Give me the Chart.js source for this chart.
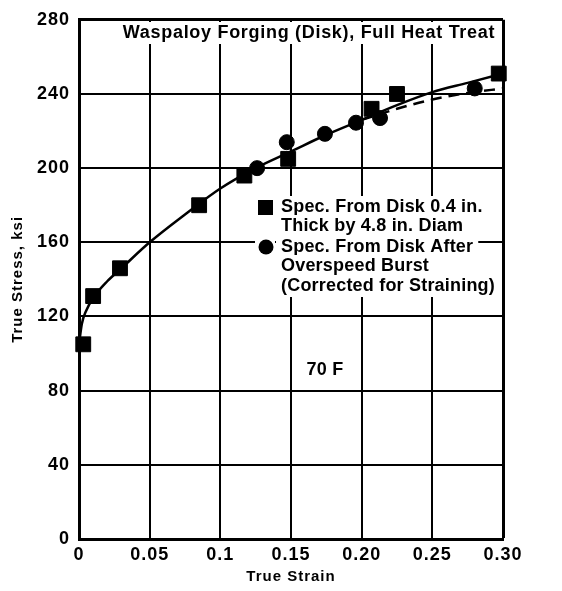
<!DOCTYPE html>
<html>
<head>
<meta charset="utf-8">
<script src="https://cdn.jsdelivr.net/npm/chart.js@4.4.0/dist/chart.umd.min.js"></script>
<style>
    body { margin: 0; background: #fff; }
    canvas { display: block; }
</style>
</head>
<body>
<canvas id="stressChart" width="562" height="591"></canvas>
<script>
// Waspaloy forging (disk), true stress vs true strain at 70 F

// Specimens from disk 0.4 in. thick by 4.8 in. diam
const squareStrain = [0.003, 0.010, 0.029, 0.085, 0.117, 0.148, 0.207, 0.225, 0.297];
const squareStress = [105, 131, 146, 180, 196, 205, 232, 240, 251];

// Specimens from disk after overspeed burst
const circleStrain = [0.126, 0.147, 0.174, 0.196, 0.213, 0.280];
const circleStress = [200, 214, 218.5, 224.5, 227, 243];

// faired curve through the disk specimens
const curveStrain = [0, 0.002, 0.005, 0.01, 0.02, 0.03, 0.05, 0.075, 0.1, 0.125, 0.15, 0.175, 0.2, 0.225, 0.25, 0.275, 0.3];
const curveStress = [105, 116, 123, 130, 139, 146, 160, 175, 189, 200, 209, 218, 226, 234, 241, 246, 251];

// dashed curve for the burst disk specimens
const dashStrain = [0.2, 0.225, 0.25, 0.275, 0.3];
const dashStress = [226, 232, 237, 240.5, 243];

const xTickValues = [0, 0.05, 0.1, 0.15, 0.2, 0.25, 0.3];
const xTickLabels = ['0', '0.05', '0.1', '0.15', '0.20', '0.25', '0.30'];
const yTickValues = [0, 40, 80, 120, 160, 200, 240, 280];

const titleText = 'Waspaloy Forging (Disk), Full Heat Treat';
const tempText = '70 F';
const squareLegend = ['Spec. From Disk 0.4 in.', 'Thick by 4.8 in. Diam'];
const circleLegend = ['Spec. From Disk After', 'Overspeed Burst', '(Corrected for Straining)'];

const FONT = '"Liberation Sans", Arial, sans-serif';

function pairs(xs, ys) {
    return xs.map((x, i) => ({ x: x, y: ys[i] }));
}

// the old lettering is widely spaced, so axis text gets a little tracking
// (set on every draw: resizing the canvas wipes the context state)
const spacingPlugin = {
    id: 'spacing',
    beforeDraw(chart) { chart.ctx.letterSpacing = '1px'; }
};

// white label boxes cut the grid, then the text goes on top
const notesPlugin = {
    id: 'notes',
    beforeDatasetsDraw(chart) {
        const ctx = chart.ctx;
        const area = chart.chartArea;
        ctx.save();
        // keep the boxes off the frame
        ctx.beginPath();
        ctx.rect(area.left + 2, area.top + 2, area.right - area.left - 4, area.bottom - area.top - 4);
        ctx.clip();
        ctx.font = 'bold 18px ' + FONT;
        ctx.textBaseline = 'middle';

        function label(text, x, y, align) {
            const w = ctx.measureText(text).width;
            const left = align === 'center' ? x - w / 2 : x;
            ctx.fillStyle = '#fff';
            ctx.fillRect(left - 5, y - 11, w + 10, 22);
            ctx.fillStyle = '#000';
            ctx.textAlign = align;
            ctx.fillText(text, x, y);
        }

        ctx.letterSpacing = '0.7px';
        label(titleText, 309, 33, 'center');

        ctx.letterSpacing = '0.2px';
        const lines = squareLegend.concat(circleLegend);
        const rowsY = [207, 226, 247, 266, 286];
        ctx.fillStyle = '#fff';
        ctx.fillRect(255, 196, 20, 22);
        ctx.fillRect(255, 236, 20, 22);
        lines.forEach((t, i) => label(t, 281, rowsY[i], 'left'));

        ctx.textAlign = 'center';
        ctx.fillStyle = '#000';
        ctx.fillText(tempText, 325, 370);

        // legend markers
        ctx.fillRect(258, 200, 15, 15);
        ctx.beginPath();
        ctx.arc(266, 247, 7.5, 0, Math.PI * 2);
        ctx.fill();
        ctx.restore();
    }
};

const edgeWidth = (max) => (c) => (c.tick && c.tick.value === max ? 3 : 2);

new Chart(document.getElementById('stressChart'), {
    type: 'scatter',
    data: {
        datasets: [
            {
                label: 'curve',
                data: pairs(curveStrain, curveStress),
                showLine: true,
                borderColor: '#000',
                borderWidth: 2.5,
                pointRadius: 0,
                cubicInterpolationMode: 'monotone',
                clip: false
            },
            {
                label: 'burst curve',
                data: pairs(dashStrain, dashStress),
                showLine: true,
                borderColor: '#000',
                borderWidth: 2.5,
                borderDash: [11, 7],
                pointRadius: 0,
                cubicInterpolationMode: 'monotone',
                clip: false
            },
            {
                label: 'Spec. From Disk 0.4 in. Thick by 4.8 in. Diam',
                data: pairs(squareStrain, squareStress),
                pointStyle: 'rect',
                pointRadius: 10.5,
                backgroundColor: '#000',
                borderColor: '#000',
                clip: false
            },
            {
                label: 'Spec. From Disk After Overspeed Burst',
                data: pairs(circleStrain, circleStress),
                pointStyle: 'circle',
                pointRadius: 7.5,
                backgroundColor: '#000',
                borderColor: '#000',
                clip: false
            }
        ]
    },
    options: {
        responsive: false,
        animation: false,
        layout: { padding: { top: 15, right: 59, left: 0, bottom: 0 } },
        plugins: {
            legend: { display: false },
            tooltip: { enabled: false }
        },
        scales: {
            x: {
                type: 'linear',
                min: 0,
                max: 0.3,
                afterFit: (scale) => { scale.height = 52; },
                afterBuildTicks: (scale) => { scale.ticks = xTickValues.map(v => ({ value: v })); },
                ticks: {
                    color: '#000',
                    padding: 5,
                    font: { family: FONT, size: 18, weight: 'bold' },
                    maxRotation: 0,
                    callback: (v, i) => xTickLabels[i]
                },
                grid: { color: '#000', lineWidth: edgeWidth(0.3), drawTicks: false },
                border: { color: '#000', width: 3 },
                title: {
                    display: true,
                    text: 'True Strain',
                    color: '#000',
                    font: { family: FONT, size: 15, weight: 'bold' },
                    padding: { top: 0, bottom: 5 }
                }
            },
            y: {
                type: 'linear',
                min: 0,
                max: 280,
                afterFit: (scale) => { scale.width = 79; },
                afterBuildTicks: (scale) => { scale.ticks = yTickValues.map(v => ({ value: v })); },
                ticks: {
                    color: '#000',
                    padding: 9,
                    font: { family: FONT, size: 18, weight: 'bold' }
                },
                grid: { color: '#000', lineWidth: edgeWidth(280), drawTicks: false },
                border: { color: '#000', width: 3 },
                title: {
                    display: true,
                    text: 'True Stress, ksi',
                    color: '#000',
                    font: { family: FONT, size: 15, weight: 'bold' },
                    padding: { top: 9, bottom: 0 }
                }
            }
        }
    },
    plugins: [spacingPlugin, notesPlugin]
});
</script>
</body>
</html>
